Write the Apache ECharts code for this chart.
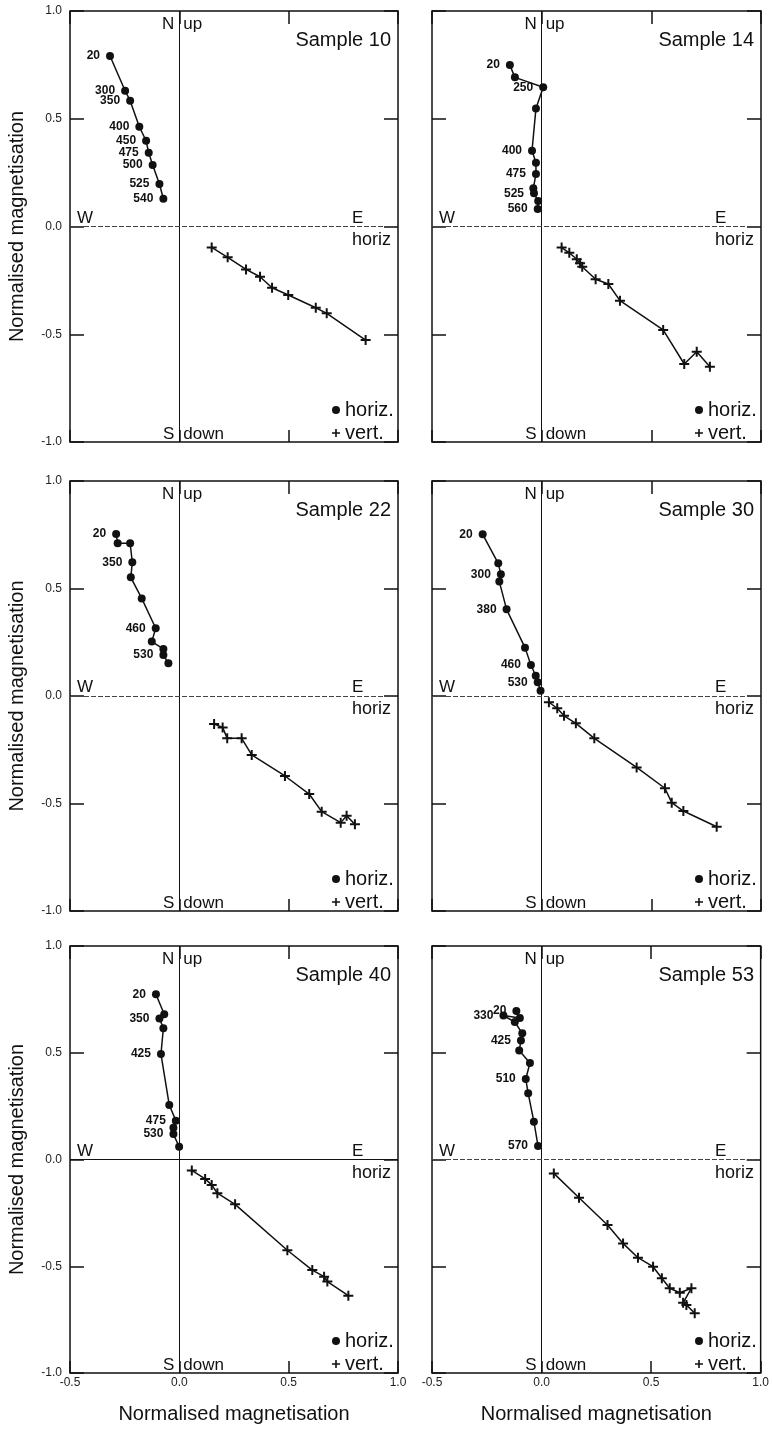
<!DOCTYPE html>
<html>
<head>
<meta charset="utf-8">
<title>Orthogonal demagnetisation plots</title>
<script src="https://cdn.jsdelivr.net/npm/echarts@6/dist/echarts.min.js"></script>
<style>
  html, body { margin: 0; padding: 0; background: #fff; }
  #chart { width: 772px; height: 1430px; }
</style>
</head>
<body>
<div id="chart"></div>
<script>
// Normalised magnetisation components per demagnetisation step, [E, N] for the
// horizontal projection and [E, up] for the vertical projection.
const s10Horiz = [[-0.317,0.791],[-0.248,0.630],[-0.225,0.584],[-0.183,0.463],[-0.152,0.398],[-0.140,0.342],[-0.122,0.285],[-0.091,0.197],[-0.073,0.129]];
const s10Steps = ['20','300','350','400','450','475','500','525','540'];
const s10Vert  = [[0.148,-0.097],[0.221,-0.143],[0.305,-0.199],[0.369,-0.233],[0.424,-0.284],[0.498,-0.318],[0.624,-0.377],[0.674,-0.403],[0.852,-0.527]];

const s14Horiz = [[-0.145,0.749],[-0.122,0.692],[0.007,0.646],[-0.026,0.548],[-0.044,0.352],[-0.026,0.296],[-0.026,0.244],[-0.038,0.177],[-0.035,0.154],[-0.016,0.118],[-0.018,0.081]];
const s14Steps = ['20','','250','','400','','475','','525','','560'];
const s14Vert  = [[0.091,-0.098],[0.126,-0.122],[0.160,-0.152],[0.175,-0.171],[0.185,-0.187],[0.246,-0.245],[0.304,-0.267],[0.357,-0.344],[0.554,-0.480],[0.650,-0.638],[0.707,-0.581],[0.767,-0.651]];

const s22Horiz = [[-0.289,0.753],[-0.282,0.710],[-0.225,0.710],[-0.215,0.622],[-0.222,0.552],[-0.172,0.454],[-0.108,0.315],[-0.126,0.253],[-0.073,0.219],[-0.073,0.191],[-0.050,0.152]];
const s22Steps = ['20','','','350','','','460','','','530',''];
const s22Vert  = [[0.159,-0.130],[0.198,-0.146],[0.219,-0.197],[0.285,-0.197],[0.331,-0.274],[0.483,-0.372],[0.594,-0.456],[0.651,-0.538],[0.738,-0.589],[0.765,-0.557],[0.803,-0.597]];

const s30Horiz = [[-0.269,0.752],[-0.198,0.617],[-0.186,0.566],[-0.193,0.532],[-0.160,0.403],[-0.076,0.225],[-0.049,0.144],[-0.027,0.094],[-0.018,0.064],[-0.005,0.025]];
const s30Steps = ['20','','300','','380','','460','','530',''];
const s30Vert  = [[0.033,-0.029],[0.071,-0.057],[0.102,-0.092],[0.156,-0.127],[0.240,-0.197],[0.433,-0.332],[0.562,-0.429],[0.593,-0.496],[0.646,-0.535],[0.798,-0.608]];

const s40Horiz = [[-0.107,0.774],[-0.069,0.680],[-0.091,0.661],[-0.073,0.615],[-0.084,0.494],[-0.046,0.255],[-0.016,0.182],[-0.027,0.149],[-0.027,0.119],[-0.001,0.060]];
const s40Steps = ['20','','350','','425','','475','','530',''];
const s40Vert  = [[0.057,-0.051],[0.118,-0.091],[0.148,-0.119],[0.174,-0.158],[0.255,-0.210],[0.494,-0.425],[0.608,-0.518],[0.662,-0.549],[0.677,-0.572],[0.773,-0.638]];

const s53Horiz = [[-0.115,0.696],[-0.099,0.663],[-0.174,0.674],[-0.122,0.644],[-0.088,0.591],[-0.094,0.557],[-0.102,0.510],[-0.053,0.452],[-0.072,0.377],[-0.061,0.310],[-0.035,0.177],[-0.016,0.063]];
const s53Steps = ['20','','330','','','425','','','510','','','570'];
const s53Vert  = [[0.056,-0.065],[0.171,-0.179],[0.301,-0.307],[0.372,-0.393],[0.440,-0.460],[0.509,-0.502],[0.549,-0.556],[0.585,-0.603],[0.631,-0.624],[0.684,-0.603],[0.646,-0.671],[0.661,-0.681],[0.699,-0.720]];

const sampleNames = ['Sample 10','Sample 14','Sample 22','Sample 30','Sample 40','Sample 53'];
const axisTicks = [-1.0, -0.5, 0.0, 0.5, 1.0];
const axisTitle = 'Normalised magnetisation';

const panels = [
  { name: sampleNames[0], horiz: s10Horiz, steps: s10Steps, vert: s10Vert, solidZero: false },
  { name: sampleNames[1], horiz: s14Horiz, steps: s14Steps, vert: s14Vert, solidZero: false },
  { name: sampleNames[2], horiz: s22Horiz, steps: s22Steps, vert: s22Vert, solidZero: false },
  { name: sampleNames[3], horiz: s30Horiz, steps: s30Steps, vert: s30Vert, solidZero: false },
  { name: sampleNames[4], horiz: s40Horiz, steps: s40Steps, vert: s40Vert, solidZero: true },
  { name: sampleNames[5], horiz: s53Horiz, steps: s53Steps, vert: s53Vert, solidZero: false }
];

const FONT = '"Liberation Sans", Arial, Helvetica, sans-serif';
const INK = '#111';
const CROSS = 'path://M4,0H6V4H10V6H6V10H4V6H0V4H4Z';

// page layout of the 3 x 2 panel grid
const cols = [{ left: 70, width: 328 }, { left: 432, width: 329 }];
const rows = [{ top: 11, height: 431 }, { top: 481, height: 430 }, { top: 946, height: 427 }];

const grid = [], xAxis = [], yAxis = [], series = [], legend = [], graphic = [];

function txt(text, x, y, size, align, vAlign) {
  return {
    type: 'text', x: x, y: y, silent: true, z: 10,
    style: {
      text: text, fill: INK, font: size + 'px ' + FONT,
      align: align, verticalAlign: vAlign, textAlign: align, textVerticalAlign: vAlign
    }
  };
}

panels.forEach((p, i) => {
  const r = Math.floor(i / 2), c = i % 2;
  const L = cols[c].left, W = cols[c].width, T = rows[r].top, H = rows[r].height;
  const R = L + W, B = T + H, x0 = L + W / 3, y0 = T + H / 2;
  const bottomRow = r === 2, leftCol = c === 0;
  const tickLine = { color: INK, width: 1.5 };
  const fmt = v => v.toFixed(1);

  grid.push({ left: L, top: T, width: W, height: H, show: true,
    borderColor: INK, borderWidth: 1.5, backgroundColor: 'transparent' });

  const xCommon = { gridIndex: i, type: 'value', min: -0.5, max: 1.0, interval: 0.5,
    axisLine: { show: false, onZero: false }, splitLine: { show: false } };
  xAxis.push(Object.assign({}, xCommon, {
    position: 'bottom',
    axisTick: { show: true, inside: true, length: 12, lineStyle: tickLine },
    axisLabel: { show: bottomRow, margin: 4, fontSize: 12, color: '#222', fontFamily: FONT, formatter: fmt },
    name: bottomRow ? axisTitle : '', nameLocation: 'middle', nameGap: 31,
    nameTextStyle: { fontSize: 20, color: INK, fontFamily: FONT }
  }));
  xAxis.push(Object.assign({}, xCommon, {
    position: 'top',
    axisTick: { show: true, inside: true, length: 13, lineStyle: tickLine },
    axisLabel: { show: false }
  }));

  const yCommon = { gridIndex: i, type: 'value', min: axisTicks[0], max: axisTicks[axisTicks.length - 1], interval: 0.5,
    axisLine: { show: false, onZero: false }, splitLine: { show: false },
    axisTick: { show: true, inside: true, length: 14, lineStyle: tickLine } };
  yAxis.push(Object.assign({}, yCommon, {
    position: 'left',
    axisLabel: { show: leftCol, margin: 8, fontSize: 12, color: '#222', fontFamily: FONT, formatter: fmt },
    name: leftCol ? axisTitle : '', nameLocation: 'middle', nameGap: 43,
    nameTextStyle: { fontSize: 20, color: INK, fontFamily: FONT }
  }));
  yAxis.push(Object.assign({}, yCommon, { position: 'right', axisLabel: { show: false } }));

  series.push({
    type: 'line', name: 'horiz.', xAxisIndex: 2 * i, yAxisIndex: 2 * i,
    color: INK, symbol: 'circle', symbolSize: 8, z: 3,
    itemStyle: { color: INK }, lineStyle: { color: INK, width: 1.5 },
    label: { position: 'left', distance: 6, fontSize: 12, fontWeight: 'bold', color: INK, fontFamily: FONT },
    data: p.horiz.map((pt, k) => ({ value: pt, label: { show: !!p.steps[k], formatter: p.steps[k] || '' } })),
    markLine: {
      silent: true, symbol: ['none', 'none'], label: { show: false }, z: 1, animation: false,
      data: [
        { xAxis: 0, lineStyle: { color: INK, width: 1, type: 'solid' } },
        { yAxis: 0, lineStyle: p.solidZero ? { color: INK, width: 1, type: 'solid' } : { color: '#444', width: 1, type: [5, 2] } }
      ]
    }
  });
  series.push({
    type: 'line', name: 'vert.', xAxisIndex: 2 * i, yAxisIndex: 2 * i,
    color: INK, symbol: CROSS, symbolSize: 10, z: 3,
    itemStyle: { color: INK }, lineStyle: { color: INK, width: 1.5 },
    data: p.vert
  });

  legend.push({
    left: R - 66, top: B - 42, orient: 'vertical', padding: 0, itemGap: 3,
    itemWidth: 8, itemHeight: 8, selectedMode: false,
    textStyle: { fontSize: 20, color: INK, fontFamily: FONT },
    data: [{ name: 'horiz.', icon: 'circle' }, { name: 'vert.', icon: CROSS }]
  });

  graphic.push(txt(p.name, R - 7, T + 19.5, 20, 'right', 'top'));
  graphic.push(txt('N', x0 - 5, T + 5, 17, 'right', 'top'));
  graphic.push(txt('up', x0 + 4, T + 5, 17, 'left', 'top'));
  graphic.push(txt('S', x0 - 5, B + 0.5, 17, 'right', 'bottom'));
  graphic.push(txt('down', x0 + 4, B + 0.5, 17, 'left', 'bottom'));
  graphic.push(txt('W', L + 7, y0, 17, 'left', 'bottom'));
  graphic.push(txt('E', R - 46, y0, 17, 'left', 'bottom'));
  graphic.push(txt('horiz', R - 46, y0 + 4.5, 18, 'left', 'top'));
});

const chart = echarts.init(document.getElementById('chart'), null, { renderer: 'canvas' });
chart.setOption({
  animation: false,
  backgroundColor: '#fff',
  textStyle: { fontFamily: FONT },
  grid: grid, xAxis: xAxis, yAxis: yAxis, series: series, legend: legend, graphic: graphic
});
</script>
</body>
</html>
